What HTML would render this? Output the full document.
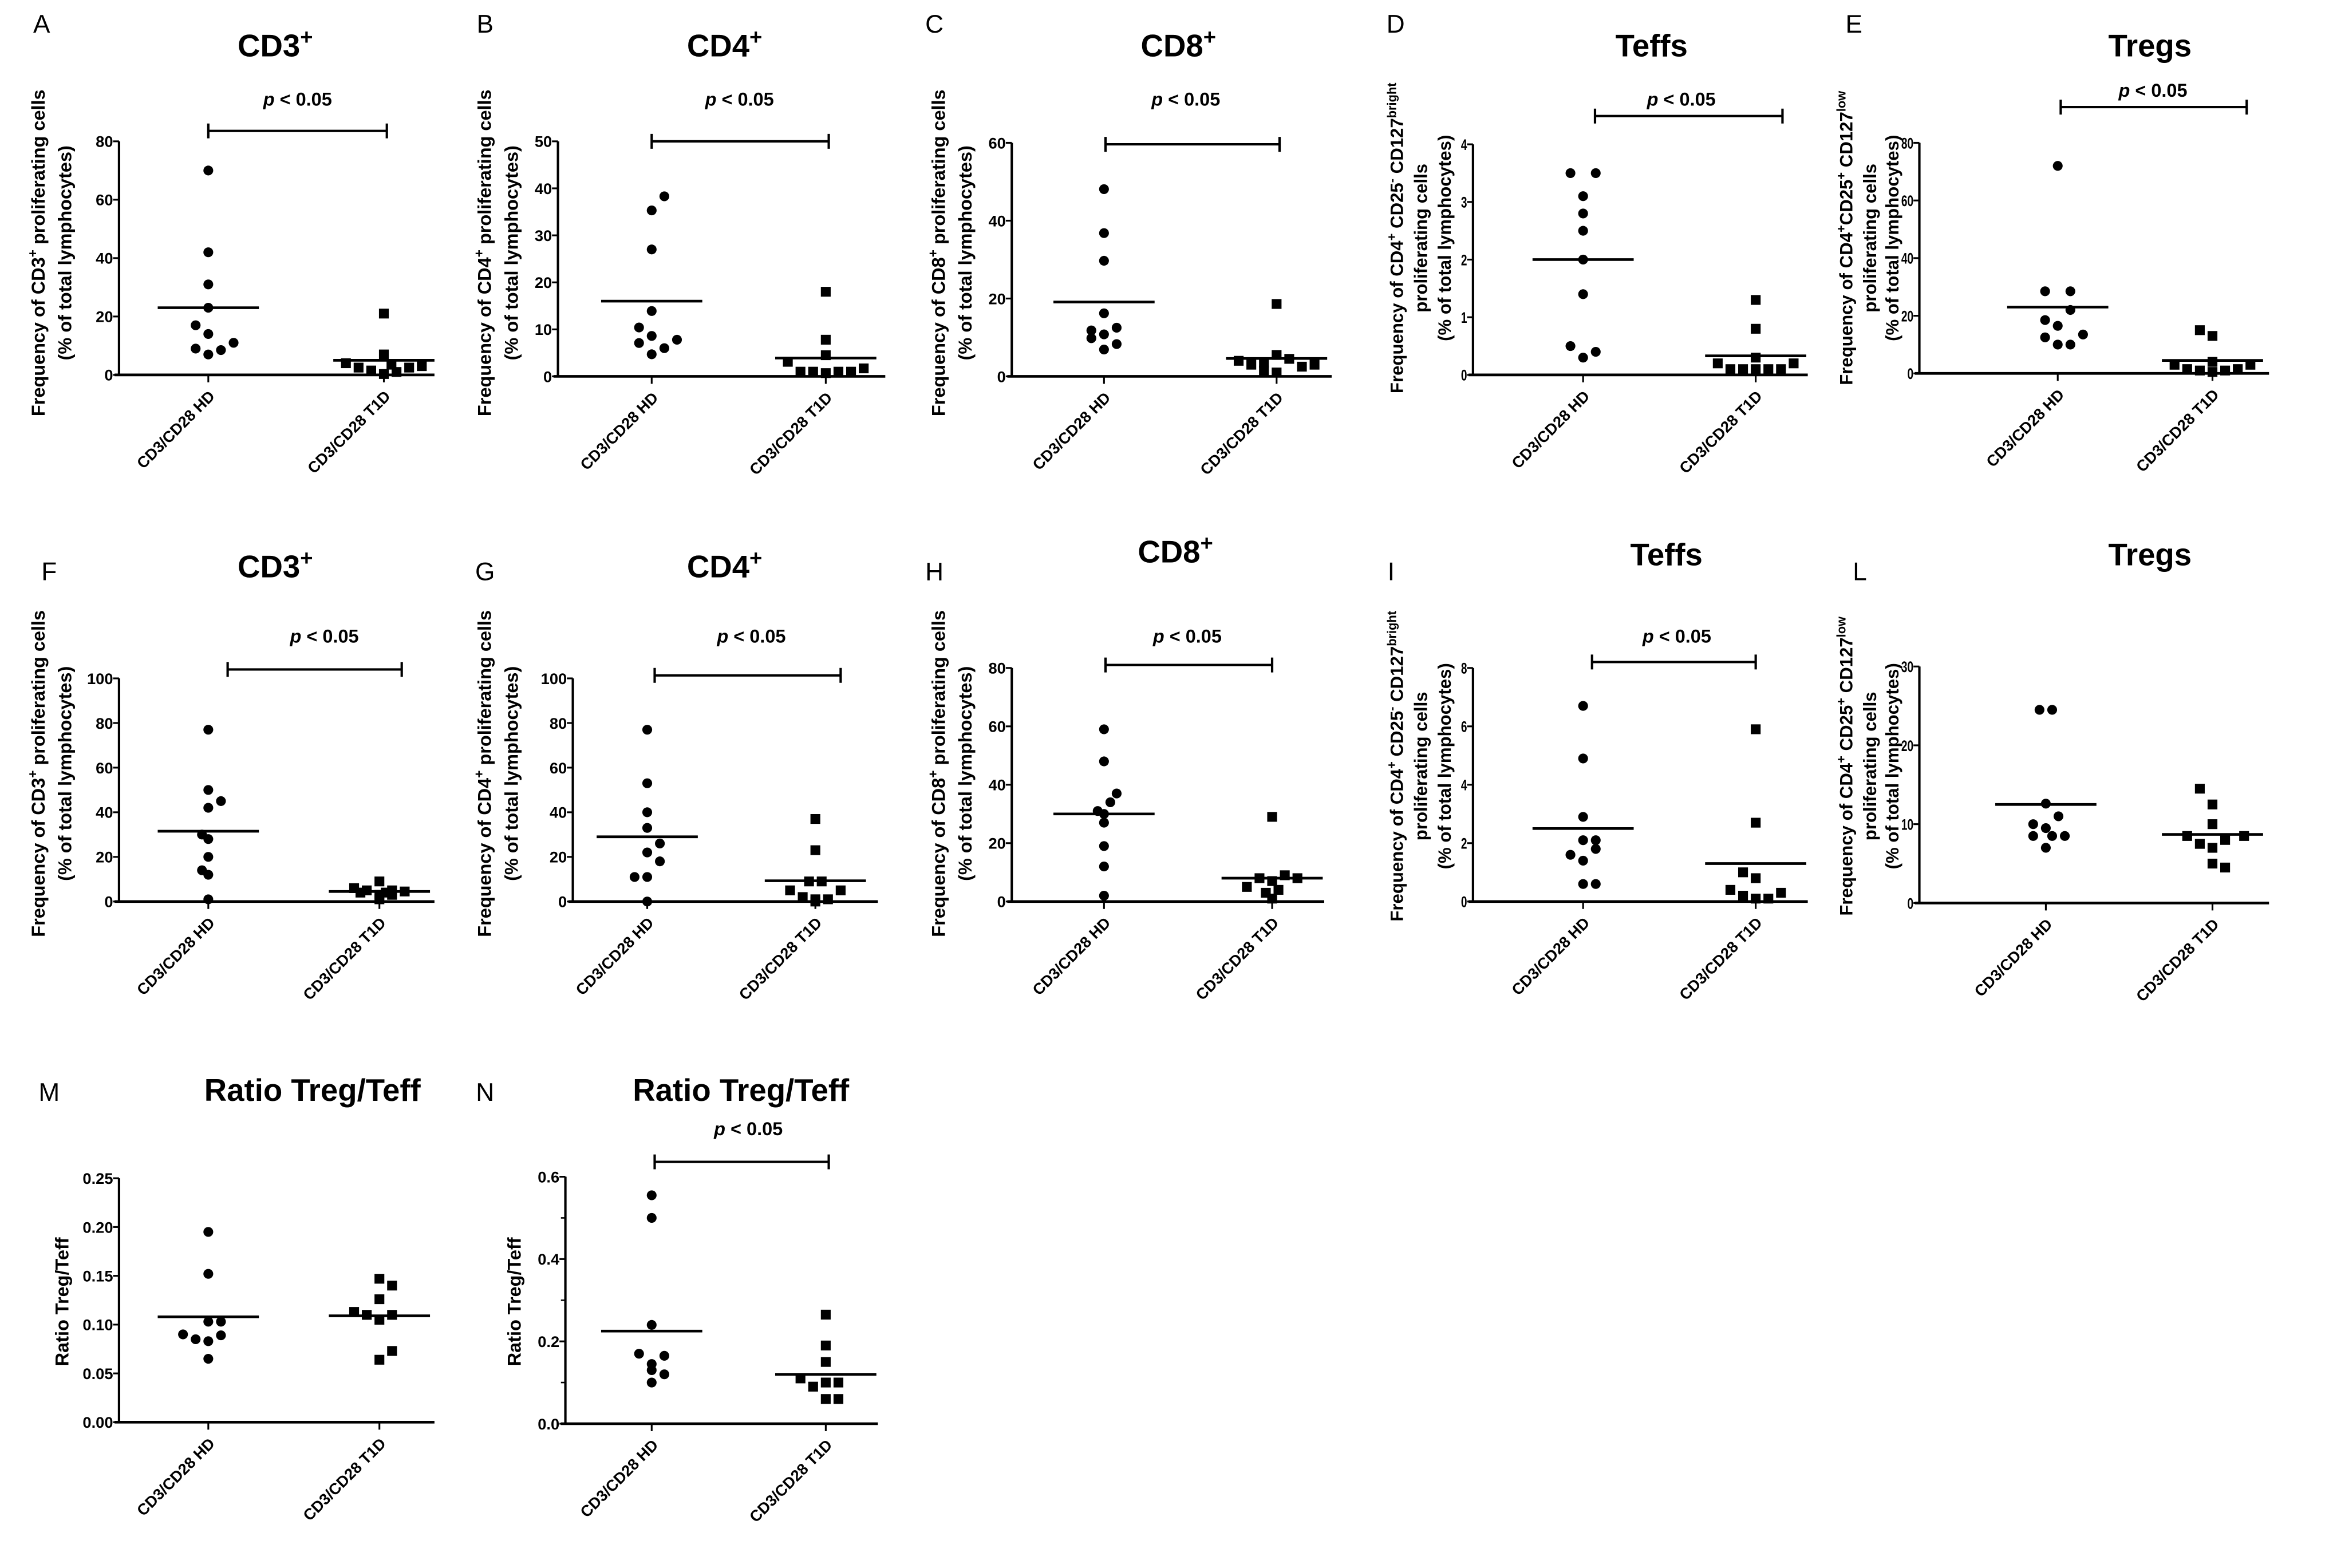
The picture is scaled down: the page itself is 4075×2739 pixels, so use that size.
<!DOCTYPE html>
<html><head><meta charset="utf-8"><style>
html,body{margin:0;padding:0;background:#fff;}
svg{display:block;font-family:"Liberation Sans",Arial,sans-serif;}
</style></head><body>
<svg id="fig" width="4075" height="2739" viewBox="0 0 1568 1054" preserveAspectRatio="none" xmlns="http://www.w3.org/2000/svg"></svg>
<script>
const cats = ["CD3/CD28 HD", "CD3/CD28 T1D"];
const aHD = [70,42,31,23,17,14,9,7,8.5,11];
const aHDo = [0,0,0,0,-1,0,-1,0,1,2];
const aT1 = [21,7,4,2.5,1.5,0.3,3.5,1,2.5,3];
const aT1o = [0,0,-3,-2,-1,0,0.6,1,2,3];
const aMed = [23,5];
const bHD = [38.3,35.3,27,13.9,10.4,8.6,7.8,7.1,6,4.7];
const bHDo = [1,0,0,0,-1,0,2,-1,1,0];
const bT1 = [18,7.8,4.5,3.1,1,1,0.7,1,1,1.7];
const bT1o = [0,0,0,-3,-2,-1,0,1,2,3];
const bMed = [16,3.9];
const cHD = [48.1,36.8,29.7,16.2,12.5,11.8,10.8,9.8,8.3,6.9];
const cHDo = [0,0,0,0,1,-1,0,-1,1,0];
const cT1 = [18.6,5.5,4,3,2.5,3,1.5,1,4.5,3.5];
const cT1o = [0,0,-3,-2,2,3,-1,0,1,-1];
const cMed = [19.1,4.6];
const dHD = [3.5,3.5,3.1,2.8,2.5,2.0,1.4,0.5,0.4,0.3];
const dHDo = [-1,1,0,0,0,0,0,-1,1,0];
const dT1 = [1.3,0.8,0.3,0.2,0.2,0.1,0.1,0.1,0.1,0.1];
const dT1o = [0,0,0,-3,3,-2,-1,0,1,2];
const dMed = [2.0,0.33];
const eHD = [72,28.5,28.5,22,18.5,16.5,13.5,12.5,10,10];
const eHDo = [0,-1,1,1,-1,0,2,-1,0,1];
const eT1 = [15,13,4,3,3,1.5,1,0.5,1,1.5];
const eT1o = [-1,0,0,-3,3,-2,-1,0,1,2];
const eMed = [23,4.5];
const fHD = [77,50,45,42,30,28,20,14,12,1];
const fHDo = [0,0,1,0,-0.5,0,0,-0.5,0,0];
const fT1 = [9,6,5,5,4.5,4,4,3,3,1];
const fT1o = [0,-2,-1,1,2,-1.5,0.5,0,1,0];
const fMed = [31.5,4.5];
const gHD = [77,53,40,33,26,22,18,11,11,0];
const gHDo = [0,0,0,0,1,0,1,-1,0,0];
const gT1 = [37,23,9,9,5,5,2,1,1,0];
const gT1o = [0,0,-0.5,0.5,-2,2,-1,1,0,0];
const gMed = [29,9.3];
const hHD = [59,48,37,34,31,30,27,19,12,2];
const hHDo = [0,0,1,0.5,-0.5,0,0,0,0,0];
const hT1 = [29,9,8,7,8,5,4,3,1];
const hT1o = [0,1,-1,0,2,-2,0.5,-0.5,0];
const hMed = [30,8];
const iHD = [6.7,4.9,2.9,2.1,2.1,1.8,1.6,1.4,0.6,0.6];
const iHDo = [0,0,0,0,1,1,-1,0,0,1];
const iT1 = [5.9,2.7,1.0,0.8,0.4,0.3,0.2,0.1,0.1];
const iT1o = [0,0,-1,0,-2,2,-1,0,1];
const iMed = [2.5,1.3];
const lHD = [24.5,24.5,12.6,11,10,9.5,8.5,8.5,8.5,7];
const lHDo = [-0.5,0.5,0,1,-1,0,-1,0.5,1.5,0];
const lT1 = [14.5,12.5,10,8.5,8.5,8,7.5,7,5,4.5];
const lT1o = [-1,0,0,-2,2.5,1,-1,0,0,1];
const lMed = [12.5,8.7];
const mHD = [0.195,0.152,0.103,0.103,0.09,0.089,0.085,0.083,0.065];
const mHDo = [0,0,0,1,-2,1,-1,0,0];
const mT1 = [0.147,0.14,0.126,0.113,0.11,0.11,0.105,0.073,0.064];
const mT1o = [0,1,0,-2,-1,1,0,1,0];
const mMed = [0.108,0.109];
const nHD = [0.555,0.50,0.24,0.17,0.165,0.145,0.13,0.12,0.10];
const nHDo = [0,0,0,-1,1,0,0,1,0];
const nT1 = [0.265,0.19,0.15,0.11,0.1,0.1,0.09,0.06,0.06];
const nT1o = [0,0,0,-2,0,1,-1,0,1];
const nMed = [0.225,0.12];

const NS = "http://www.w3.org/2000/svg";
const svg = document.getElementById('fig');
function el(tag, attrs, parent) {
  const e = document.createElementNS(NS, tag);
  for (const k in attrs) e.setAttribute(k, attrs[k]);
  (parent || svg).appendChild(e);
  return e;
}
const SUP = ' baseline-shift="super" font-size="70%"';
const panels = [
 {id:'a',L:'A',lx:28,ly:22,title:'CD3<tspan'+SUP+'>+</tspan>',tx:185,ty:38,ax:80,y0:252,yt:95,max:80,step:20,dec:0,xe:292,hd:140,t1:258,br:[140,260,88],px:200,py:71,
  yl:['Frequency of CD3<tspan'+SUP+'>+</tspan> proliferating cells','(% of total lymphocytes)'],ylx:[30,48],yly:170,fs:12.5,hdv:aHD,hdo:aHDo,t1v:aT1,t1o:aT1o,med:aMed},
 {id:'b',L:'B',lx:326,ly:22,title:'CD4<tspan'+SUP+'>+</tspan>',tx:487,ty:38,ax:375,y0:253,yt:95,max:50,step:10,dec:0,xe:595,hd:438,t1:555,br:[438,557,95],px:497,py:71,
  yl:['Frequency of CD4<tspan'+SUP+'>+</tspan> proliferating cells','(% of total lymphocytes)'],ylx:[330,348],yly:170,fs:12.5,hdv:bHD,hdo:bHDo,t1v:bT1,t1o:bT1o,med:bMed},
 {id:'c',L:'C',lx:628,ly:22,title:'CD8<tspan'+SUP+'>+</tspan>',tx:792,ty:38,ax:680,y0:253,yt:96,max:60,step:20,dec:0,xe:895,hd:742,t1:858,br:[743,860,97],px:797,py:71,
  yl:['Frequency of CD8<tspan'+SUP+'>+</tspan> proliferating cells','(% of total lymphocytes)'],ylx:[635,653],yly:170,fs:12.5,hdv:cHD,hdo:cHDo,t1v:cT1,t1o:cT1o,med:cMed},
 {id:'d',L:'D',lx:938,ly:22,title:'Teffs',tx:1110,ty:38,ax:990,y0:252,yt:97,max:4,step:1,dec:0,xe:1215,hd:1064,t1:1180,br:[1072,1198,78],px:1130,py:71,
  yl:['Frequency of CD4<tspan'+SUP+'>+</tspan> CD25<tspan'+SUP+'>-</tspan> CD127<tspan'+SUP+'>bright</tspan>','proliferating cells','(% of total lymphocytes)'],ylx:[943,959,975],yly:160,fs:12,hdv:dHD,hdo:dHDo,t1v:dT1,t1o:dT1o,med:dMed},
 {id:'e',L:'E',lx:1246,ly:22,title:'Tregs',tx:1445,ty:38,ax:1290,y0:251,yt:96,max:80,step:20,dec:0,xe:1525,hd:1383,t1:1487,br:[1385,1510,72],px:1447,py:65,
  yl:['Frequency of CD4<tspan'+SUP+'>+</tspan>CD25<tspan'+SUP+'>+</tspan> CD127<tspan'+SUP+'>low</tspan>','proliferating cells','(% of total lymphocytes)'],ylx:[1245,1261,1276],yly:160,fs:12,hdv:eHD,hdo:eHDo,t1v:eT1,t1o:eT1o,med:eMed},
 {id:'f',L:'F',lx:33,ly:390,title:'CD3<tspan'+SUP+'>+</tspan>',tx:185,ty:388,ax:80,y0:606,yt:456,max:100,step:20,dec:0,xe:292,hd:140,t1:255,br:[153,270,450],px:218,py:432,
  yl:['Frequency of CD3<tspan'+SUP+'>+</tspan> proliferating cells','(% of total lymphocytes)'],ylx:[30,48],yly:520,fs:12.5,hdv:fHD,hdo:fHDo,t1v:fT1,t1o:fT1o,med:fMed},
 {id:'g',L:'G',lx:326,ly:390,title:'CD4<tspan'+SUP+'>+</tspan>',tx:487,ty:388,ax:385,y0:606,yt:456,max:100,step:20,dec:0,xe:590,hd:435,t1:548,br:[440,565,454],px:505,py:432,
  yl:['Frequency of CD4<tspan'+SUP+'>+</tspan> proliferating cells','(% of total lymphocytes)'],ylx:[330,348],yly:520,fs:12.5,hdv:gHD,hdo:gHDo,t1v:gT1,t1o:gT1o,med:gMed},
 {id:'h',L:'H',lx:628,ly:390,title:'CD8<tspan'+SUP+'>+</tspan>',tx:790,ty:378,ax:680,y0:606,yt:449,max:80,step:20,dec:0,xe:890,hd:742,t1:855,br:[743,855,447],px:798,py:432,
  yl:['Frequency of CD8<tspan'+SUP+'>+</tspan> proliferating cells','(% of total lymphocytes)'],ylx:[635,653],yly:520,fs:12.5,hdv:hHD,hdo:hHDo,t1v:hT1,t1o:hT1o,med:hMed},
 {id:'i',L:'I',lx:935,ly:390,title:'Teffs',tx:1120,ty:380,ax:990,y0:606,yt:449,max:8,step:2,dec:0,xe:1215,hd:1064,t1:1180,br:[1070,1180,445],px:1127,py:432,
  yl:['Frequency of CD4<tspan'+SUP+'>+</tspan> CD25<tspan'+SUP+'>-</tspan> CD127<tspan'+SUP+'>bright</tspan>','proliferating cells','(% of total lymphocytes)'],ylx:[943,959,975],yly:515,fs:12,hdv:iHD,hdo:iHDo,t1v:iT1,t1o:iT1o,med:iMed},
 {id:'l',L:'L',lx:1250,ly:390,title:'Tregs',tx:1445,ty:380,ax:1290,y0:607,yt:448,max:30,step:10,dec:0,xe:1525,hd:1375,t1:1487,br:null,
  yl:['Frequency of CD4<tspan'+SUP+'>+</tspan> CD25<tspan'+SUP+'>+</tspan> CD127<tspan'+SUP+'>low</tspan>','proliferating cells','(% of total lymphocytes)'],ylx:[1245,1261,1276],yly:515,fs:12,hdv:lHD,hdo:lHDo,t1v:lT1,t1o:lT1o,med:lMed},
 {id:'m',L:'M',lx:33,ly:740,title:'Ratio Treg/Teff',tx:210,ty:740,ax:80,y0:956,yt:792,max:0.25,step:0.05,dec:2,xe:292,hd:140,t1:255,br:null,
  yl:['Ratio Treg/Teff'],ylx:[46],yly:875,fs:12.5,hdv:mHD,hdo:mHDo,t1v:mT1,t1o:mT1o,med:mMed},
 {id:'n',L:'N',lx:326,ly:740,title:'Ratio Treg/Teff',tx:498,ty:740,ax:380,y0:957,yt:791,max:0.6,step:0.2,dec:1,minor:0.1,xe:590,hd:438,t1:555,br:[440,557,781],px:503,py:763,
  yl:['Ratio Treg/Teff'],ylx:[350],yly:875,fs:12.5,hdv:nHD,hdo:nHDo,t1v:nT1,t1o:nT1o,med:nMed}
];
const U = 8.5;
panels.forEach(p => {
  const g = el('g', {});
  
  
  const ys = v => p.y0 - (v / p.max) * (p.y0 - p.yt);
  const lt = el('text', {x:p.lx, y:p.ly, 'font-size':17, 'text-anchor':'middle'}, g);
  lt.textContent = p.L;
  
  
  const tt = el('text', {x:p.tx, y:p.ty, 'font-size':21, 'font-weight':'bold', 'text-anchor':'middle'}, g);
  tt.innerHTML = p.title;
  
  
  p.yl.forEach((s, i) => {
    const t = el('text', {x:0, y:0, 'font-size':p.fs, 'font-weight':'bold', 'text-anchor':'middle', transform:'translate(' + p.ylx[i] + ',' + p.yly + ') rotate(-90)'}, g);
    t.innerHTML = s;
    
    
  });
  const ya = el('line', {x1:p.ax, y1:p.yt, x2:p.ax, y2:p.y0, stroke:'#000', 'stroke-width':1.6}, g);
  
  
  const xa = el('line', {x1:p.ax - 3, y1:p.y0, x2:p.xe, y2:p.y0, stroke:'#000', 'stroke-width':1.8}, g);
  
  
  const n = Math.round(p.max / p.step);
  const narrow = p.fs === 12;
  for (let k = 0; k <= n; k++) {
    const v = k * p.step, y = ys(v);
    el('line', {x1:p.ax - 4, y1:y, x2:p.ax, y2:y, stroke:'#000', 'stroke-width':1.2}, g);
    const t = el('text', {x:0, y:0, 'font-size':10.5, 'font-weight':'bold', 'text-anchor':'end', transform:'translate(' + (p.ax - 4) + ',' + (y + 3.8) + ') scale(' + (narrow ? 0.7 : 1) + ',1)'}, g);
    t.textContent = v.toFixed(p.dec);
    
    
  }
  if (p.minor) {
    for (let v = p.minor; v < p.max; v += p.step) {
      const y = ys(v);
      el('line', {x1:p.ax - 3, y1:y, x2:p.ax, y2:y, stroke:'#000', 'stroke-width':1}, g);
    }
  }
  [p.hd, p.t1].forEach((cx, i) => {
    el('line', {x1:cx, y1:p.y0, x2:cx, y2:p.y0 + 5, stroke:'#000', 'stroke-width':1.2}, g);
    const t = el('text', {x:0, y:0, 'font-size':10.5, 'font-weight':'bold', 'text-anchor':'end', transform:'translate(' + (cx + 5) + ',' + (p.y0 + 15) + ') rotate(-45)'}, g);
    t.textContent = cats[i];
    
    
  });
  p.hdv.forEach((v, i) => {
    const c = el('circle', {cx:p.hd + p.hdo[i] * U, cy:ys(v), r:3.3, fill:'#000'}, g);
    
    
  });
  p.t1v.forEach((v, i) => {
    const s = el('rect', {x:p.t1 + p.t1o[i] * U - 3.3, y:ys(v) - 3.3, width:6.6, height:6.6, fill:'#000'}, g);
    
    
  });
  [p.hd, p.t1].forEach((cx, i) => {
    const m = el('line', {x1:cx - 34, y1:ys(p.med[i]), x2:cx + 34, y2:ys(p.med[i]), stroke:'#000', 'stroke-width':1.8}, g);
    
    
  });
  if (p.br) {
    const [x1, x2, y] = p.br;
    const b = el('path', {d:'M' + x1 + ' ' + (y - 5) + 'V' + (y + 5) + 'M' + x1 + ' ' + y + 'H' + x2 + 'M' + x2 + ' ' + (y - 5) + 'V' + (y + 5), stroke:'#000', 'stroke-width':1.6, fill:'none'}, g);
    
    
    const pt = el('text', {x:p.px, y:p.py, 'font-size':12.5, 'font-weight':'bold', 'text-anchor':'middle'}, g);
    pt.innerHTML = '<tspan font-style="italic">p</tspan> &lt; 0.05';
    
    
  }
});
</script>
</body></html>
